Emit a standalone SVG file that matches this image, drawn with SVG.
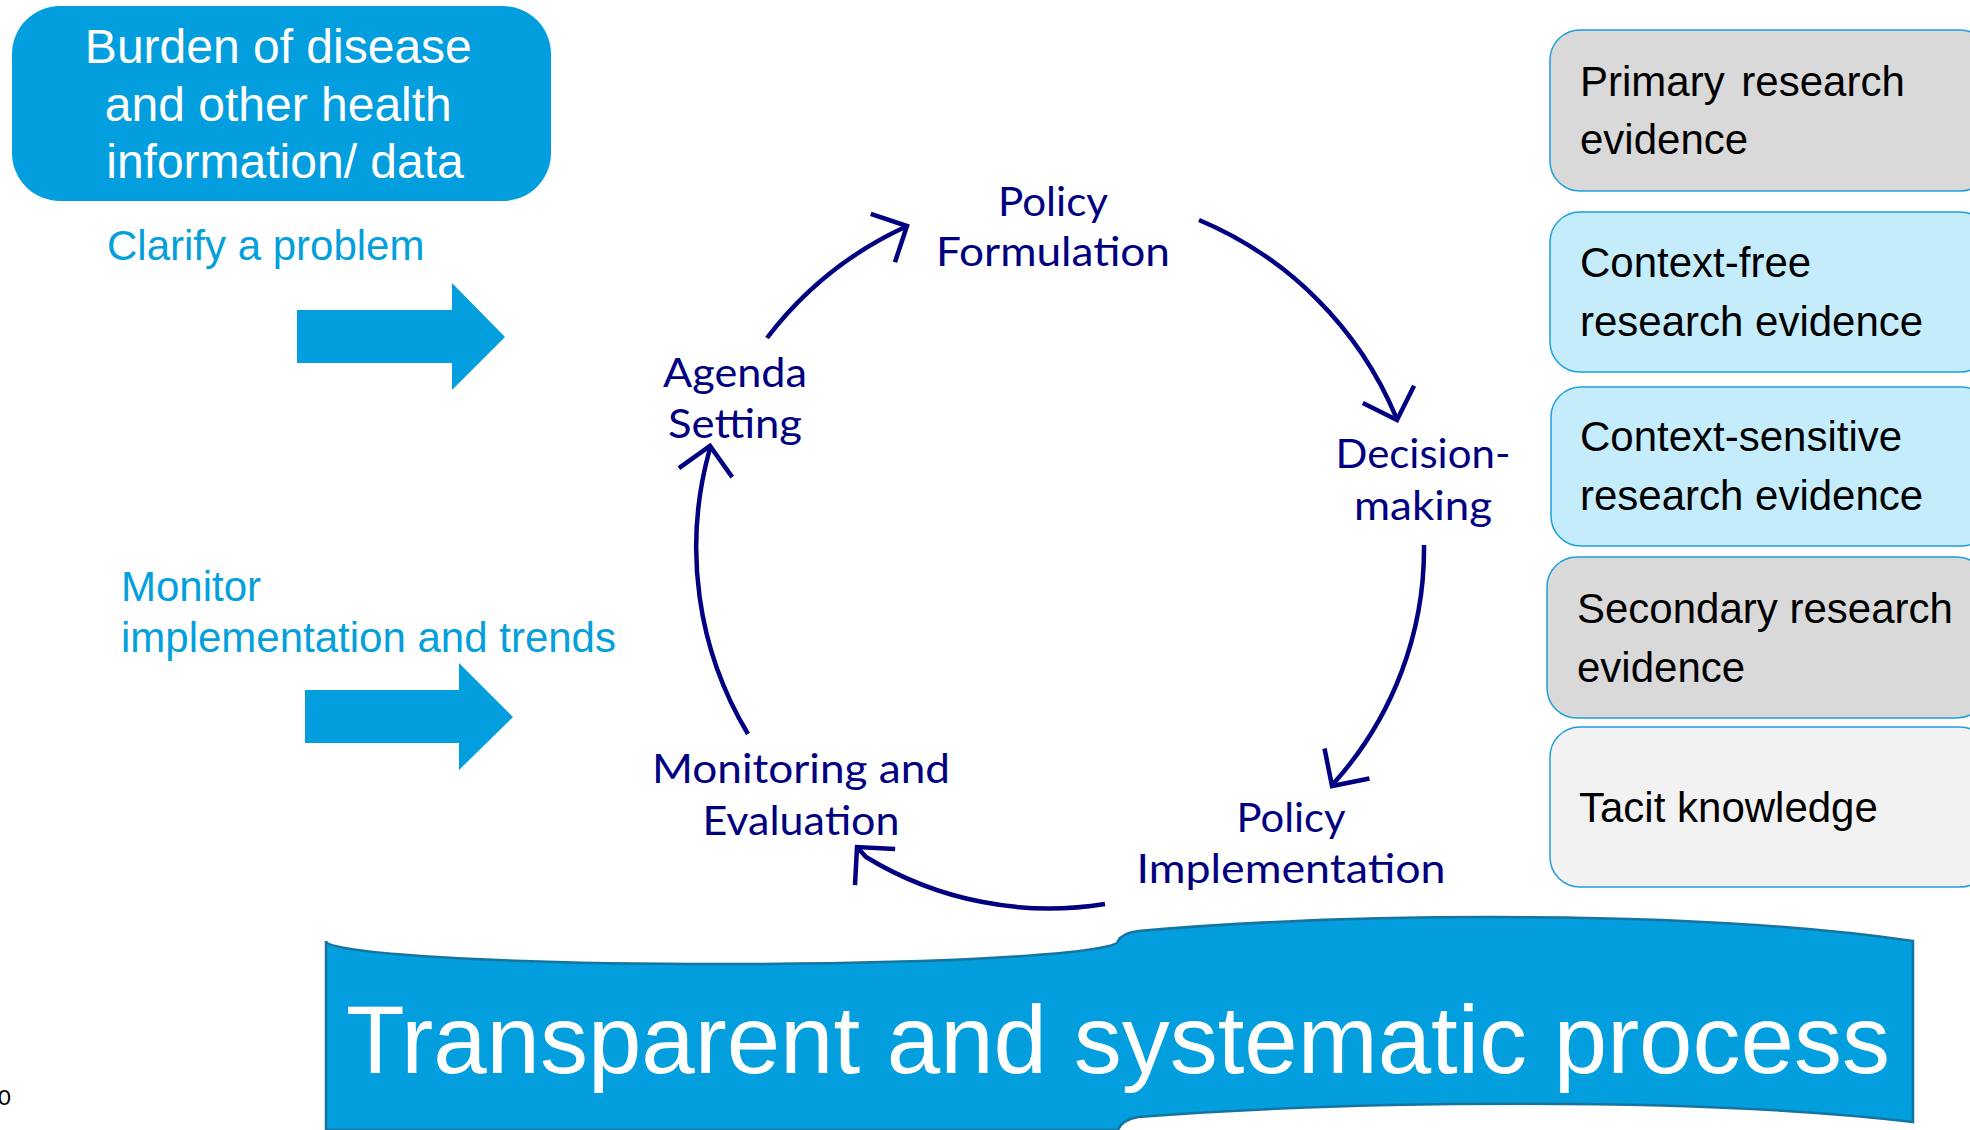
<svg xmlns="http://www.w3.org/2000/svg" width="1970" height="1130" viewBox="0 0 1970 1130">
  <style>
    .sans { font-family: "Liberation Sans", Arial, sans-serif; }
    .cyc { font-family: Lato, "Open Sans", sans-serif; font-size: 41px; fill: #000080; text-anchor: middle; }
    .blue-txt { font-family: "Liberation Sans", Arial, sans-serif; font-size: 42px; fill: #049FDC; }
    .ev-box { stroke: #1E9FDB; stroke-width: 1.5; }
    .ev-txt { font-family: "Liberation Sans", Arial, sans-serif; font-size: 42px; fill: #000; }
    .conn { fill: none; stroke: #000080; stroke-width: 4.5; }
    .blk { fill: #039EDD; }
  </style>
  <defs>
    <marker id="chev" markerUnits="userSpaceOnUse" markerWidth="80" markerHeight="80" viewBox="-40 -40 80 80" refX="0" refY="0" orient="auto">
      <path d="M -27 -27 L 0 0 L -27 27" fill="none" stroke="#000080" stroke-width="4.5"/>
    </marker>
  </defs>
  <rect width="1970" height="1130" fill="#ffffff"/>

  <g id="burden">
    <rect class="blk" x="12" y="6" width="539" height="195" rx="48" ry="48"/>
    <text class="sans" font-size="48" fill="#ffffff" text-anchor="middle">
      <tspan x="285" y="63">Burden of disease</tspan>
      <tspan x="285" y="121">and other health</tspan>
      <tspan x="285" y="178">information/ data</tspan>
    </text>
  </g>

  <g id="clarify">
    <text class="blue-txt" x="107" y="260">Clarify a problem</text>
    <polygon class="blk" points="297,310 452,310 452,283 505,337 452,390 452,363 297,363"/>
  </g>

  <g id="monitor">
    <text class="blue-txt" x="121" y="601">Monitor</text>
    <text class="blue-txt" x="121" y="652">implementation and trends</text>
    <polygon class="blk" points="305,690 459,690 459,663 513,717 459,770 459,743 305,743"/>
  </g>

  <g id="policy-formulation">
    <text class="cyc"><tspan x="1053" y="216" textLength="110" lengthAdjust="spacingAndGlyphs">Policy</tspan><tspan x="1053" y="266" textLength="234" lengthAdjust="spacingAndGlyphs">Formulation</tspan></text>
  </g>
  <g id="agenda-setting">
    <text class="cyc"><tspan x="735" y="387" textLength="144" lengthAdjust="spacingAndGlyphs">Agenda</tspan><tspan x="735" y="438" textLength="134" lengthAdjust="spacingAndGlyphs">Setting</tspan></text>
  </g>
  <g id="decision-making">
    <text class="cyc"><tspan x="1423" y="468" textLength="175" lengthAdjust="spacingAndGlyphs">Decision-</tspan><tspan x="1423" y="520" textLength="138" lengthAdjust="spacingAndGlyphs">making</tspan></text>
  </g>
  <g id="policy-implementation">
    <text class="cyc"><tspan x="1291" y="832" textLength="109" lengthAdjust="spacingAndGlyphs">Policy</tspan><tspan x="1291" y="883" textLength="309" lengthAdjust="spacingAndGlyphs">Implementation</tspan></text>
  </g>
  <g id="monitoring-evaluation">
    <text class="cyc"><tspan x="801" y="783" textLength="298" lengthAdjust="spacingAndGlyphs">Monitoring and</tspan><tspan x="801" y="835" textLength="197" lengthAdjust="spacingAndGlyphs">Evaluation</tspan></text>
  </g>

  <g id="connectors">
    <path class="conn" d="M 767 338 A 367 367 0 0 1 903 228 L 907 226" marker-end="url(#chev)"/>
    <path class="conn" d="M 1199 220 A 367 367 0 0 1 1396 417 L 1397 420" marker-end="url(#chev)"/>
    <path class="conn" d="M 1424 545 A 362 355 0 0 1 1334 783 L 1332 786" marker-end="url(#chev)"/>
    <path class="conn" d="M 1105 904 A 352 352 0 0 1 866 857 L 857 847" marker-end="url(#chev)"/>
    <path class="conn" d="M 748 734 A 362 362 0 0 1 709 452 L 710 446" marker-end="url(#chev)"/>
  </g>

  <g id="ev-primary">
    <rect class="ev-box" x="1550" y="30" width="440" height="161" rx="30" fill="#D9D9D9"/>
    <text class="ev-txt" x="1580" y="96" word-spacing="5">Primary research</text>
    <text class="ev-txt" x="1580" y="154">evidence</text>
  </g>
  <g id="ev-context-free">
    <rect class="ev-box" x="1550" y="212" width="440" height="160" rx="30" fill="#C5ECFB"/>
    <text class="ev-txt" x="1580" y="277">Context-free</text>
    <text class="ev-txt" x="1580" y="336">research evidence</text>
  </g>
  <g id="ev-context-sensitive">
    <rect class="ev-box" x="1551" y="387" width="440" height="159" rx="30" fill="#C5ECFB"/>
    <text class="ev-txt" x="1580" y="451">Context-sensitive</text>
    <text class="ev-txt" x="1580" y="510">research evidence</text>
  </g>
  <g id="ev-secondary">
    <rect class="ev-box" x="1547" y="557" width="440" height="161" rx="30" fill="#D9D9D9"/>
    <text class="ev-txt" x="1577" y="623">Secondary research</text>
    <text class="ev-txt" x="1577" y="682">evidence</text>
  </g>
  <g id="ev-tacit">
    <rect class="ev-box" x="1550" y="727" width="440" height="160" rx="30" fill="#F2F2F2"/>
    <text class="ev-txt" x="1579" y="822">Tacit knowledge</text>
  </g>

  <g id="banner">
    <path d="M 326 941 A 396 23 0 0 0 1118 941 Q 1122 933 1138 931 C 1360 912 1700 910 1913 941 L 1913 1122 C 1700 1097 1360 1100 1138 1117 Q 1122 1120 1118 1130 L 326 1130 Z" fill="#039EDD" stroke="#1674A0" stroke-width="2.5"/>
    <text class="sans" x="1118" y="1073" font-size="96" fill="#ffffff" text-anchor="middle">Transparent and systematic process</text>
  </g>

  <text x="-2" y="1105" font-family="Lato, sans-serif" font-size="22" fill="#000">0</text>
</svg>
